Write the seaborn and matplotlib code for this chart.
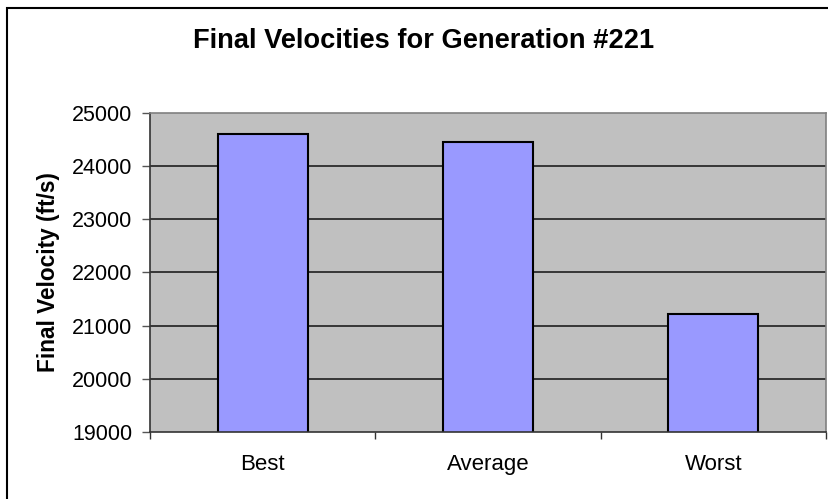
import numpy as np
import pandas as pd
import matplotlib
matplotlib.use('Agg')
import matplotlib.pyplot as plt
import seaborn as sns
from matplotlib.patches import Rectangle

# values
categories = ['Best', 'Average', 'Worst']
velocities = [24610, 24448, 21218]
y_ticks = [19000, 20000, 21000, 22000, 23000, 24000, 25000]

df = pd.DataFrame({'group': categories, 'velocity': velocities})

sns.set_style('white')
plt.rcParams['font.family'] = ['Liberation Sans', 'DejaVu Sans']
plt.rcParams['text.color'] = 'black'
plt.rcParams['axes.labelcolor'] = 'black'
plt.rcParams['xtick.labelcolor'] = 'black'
plt.rcParams['ytick.labelcolor'] = 'black'

fig = plt.figure(figsize=(8.29, 4.99), dpi=100)
ax = fig.add_axes([150 / 829, 67 / 499, 676 / 829, 319 / 499])
ax.set_facecolor('#C0C0C0')

# gridlines behind bars
for t in y_ticks[1:-1]:
    ax.axhline(t, color='#111111', lw=1.1, zorder=0)

sns.barplot(data=df, x='group', y='velocity', color='#9999FF',
            edgecolor='black', linewidth=1.5, width=0.4, saturation=1,
            ax=ax, zorder=2)

ax.set_ylim(19000, 25000)
ax.set_xlim(-0.5, 2.5)
ax.set_yticks(y_ticks)
ax.set_yticklabels([str(t) for t in y_ticks], fontsize=15.5)
ax.tick_params(axis='y', direction='out', length=5.8, width=1, color='#555555', pad=7, left=True)
ax.tick_params(axis='x', which='major', length=0, labelsize=16, pad=16)
ax.set_xticks([-0.5, 0.5, 1.5, 2.5], minor=True)
ax.tick_params(axis='x', which='minor', direction='out', length=5, width=1, color='#333333', bottom=True)

ax.set_xlabel('')
ax.set_ylabel('Final Velocity (ft/s)', fontsize=16.3, fontweight='bold')
ax.yaxis.set_label_coords(-0.133, 0.5)

for side in ['top', 'right']:
    ax.spines[side].set_color('#808080')
    ax.spines[side].set_linewidth(1.2)
for side in ['left', 'bottom']:
    ax.spines[side].set_color('#333333')
    ax.spines[side].set_linewidth(1.2)

fig.text(424 / 829, 1 - 48 / 499, 'Final Velocities for Generation #221',
         ha='center', va='baseline', fontsize=19.6, fontweight='bold')

# chart area border
fig.patches.append(Rectangle((7 / 829, -0.1), 1.2, 1 - 8 / 499 + 0.1,
                             transform=fig.transFigure, fill=False,
                             edgecolor='black', lw=1.5, zorder=0))

fig.savefig('out.png', dpi=100)
